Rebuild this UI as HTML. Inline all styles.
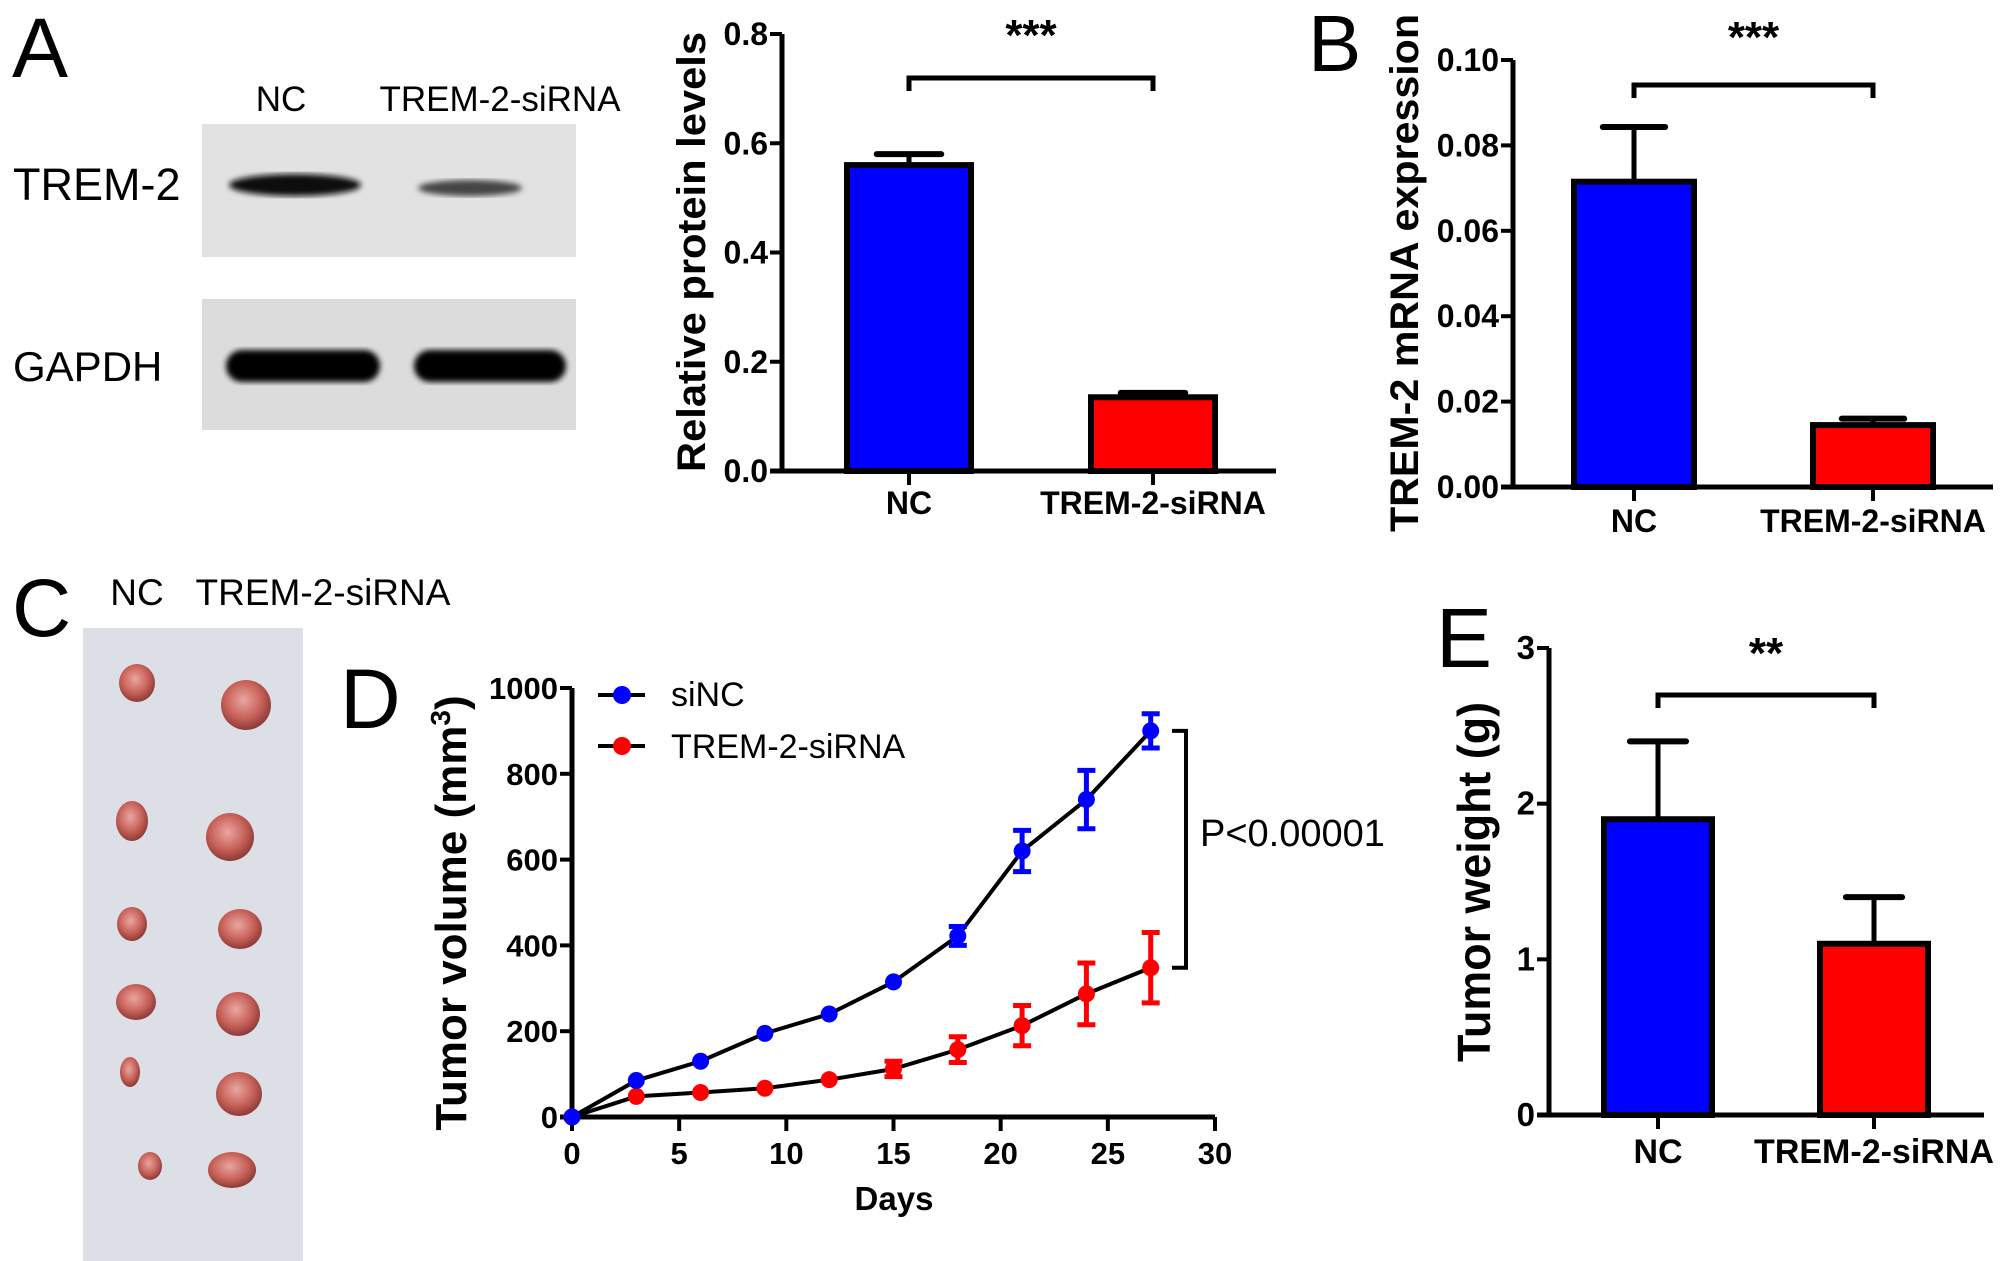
<!DOCTYPE html>
<html><head><meta charset="utf-8"><style>
html,body{margin:0;padding:0;background:#fff;}
svg{display:block;}
text{font-family:"Liberation Sans",Arial,sans-serif;fill:#000;}
.b{font-weight:bold;}
</style></head><body>
<svg id="fig" width="2008" height="1261" viewBox="0 0 2008 1261" xmlns="http://www.w3.org/2000/svg">
<defs>
<filter id="blur3"><feGaussianBlur stdDeviation="3"/></filter>
<filter id="blur5"><feGaussianBlur stdDeviation="5"/></filter>
<radialGradient id="tum" cx="45%" cy="40%" r="60%"><stop offset="0" stop-color="#e8a7a0"/><stop offset="0.6" stop-color="#c8625a"/><stop offset="1" stop-color="#8e3a36"/></radialGradient>
</defs>
<g>
<text x="12" y="77" font-size="84">A</text>
<text x="281" y="111" font-size="35" text-anchor="middle">NC</text>
<text x="500" y="111" font-size="35" text-anchor="middle">TREM-2-siRNA</text>
<text x="13" y="200" font-size="45">TREM-2</text>
<text x="13" y="381" font-size="42">GAPDH</text>
<rect x="202" y="124" width="374" height="133" fill="#e2e2e2"/>
<rect x="202" y="299" width="374" height="131" fill="#dcdcdc"/>
<ellipse cx="295" cy="185" rx="66" ry="11" fill="#111" filter="url(#blur3)"/>
<ellipse cx="470" cy="188" rx="52" ry="8" fill="#444" filter="url(#blur3)"/>
<rect x="226" y="350" width="154" height="32" rx="16" fill="#000" filter="url(#blur3)"/>
<rect x="414" y="350" width="152" height="32" rx="16" fill="#000" filter="url(#blur3)"/>
</g>
<g>
<text x="12" y="636" font-size="82">C</text>
<text x="137" y="605" font-size="37" text-anchor="middle">NC</text>
<text x="323" y="605" font-size="37" text-anchor="middle">TREM-2-siRNA</text>
<rect x="83" y="628" width="220" height="633" fill="#dcdfe5"/>
<g id="tumors"></g>
</g>
<g id="charts"></g>
</svg>
<script>
const NS="http://www.w3.org/2000/svg";
const tumorNC=[[137,683,18,19],[132,821,16,20],[132,924,15,17],[136,1002,20,18],[130,1072,10,15],[150,1166,12,14]];
const tumorSi=[[246,705,25,25],[230,837,24,24],[240,929,22,20],[238,1014,22,22],[239,1094,23,22],[232,1170,24,18]];
const barCategories=["NC","TREM-2-siRNA"];
const proteinValues=[0.56,0.135];
const proteinErrors=[0.02,0.008];
const proteinTicks=["0.0","0.2","0.4","0.6","0.8"];
const mrnaValues=[0.0715,0.0145];
const mrnaErrors=[0.0128,0.0015];
const mrnaTicks=["0.00","0.02","0.04","0.06","0.08","0.10"];
const weightValues=[1.9,1.1];
const weightErrors=[0.5,0.3];
const weightTicks=["0","1","2","3"];
const days=[0,3,6,9,12,15,18,21,24,27];
const siNCValues=[0,85,130,195,240,315,422,620,740,900];
const siNCErrors=[0,0,0,0,0,0,22,48,68,40];
const sirnaValues=[0,48,57,67,87,112,157,213,287,348];
const sirnaErrors=[0,0,0,0,0,18,30,47,72,82];
const dayTicks=[0,5,10,15,20,25,30];
const volumeTicks=[0,200,400,600,800,1000];

function el(tag,attrs,parent){const e=document.createElementNS(NS,tag);for(const k in attrs)e.setAttribute(k,attrs[k]);parent.appendChild(e);return e;}
function txt(s,attrs,parent){const t=el('text',attrs,parent);t.textContent=s;return t;}

const tg=document.getElementById('tumors');
tumorNC.concat(tumorSi).forEach((t,i)=>{
  const e=el('ellipse',{cx:t[0],cy:t[1],rx:t[2],ry:t[3],fill:'url(#tum)'},tg);
  
  
});

const root=document.getElementById('charts');

function barChart(cfg){
  const g=el('g',{},root);
  
  
  const yS=v=>cfg.y0-(v-cfg.ymin)/(cfg.ymax-cfg.ymin)*(cfg.y0-cfg.y1);
  const ya=el('line',{x1:cfg.ax,y1:yS(cfg.ymax),x2:cfg.ax,y2:cfg.y0+2,stroke:'#000','stroke-width':5},g);
  
  const xa=el('line',{x1:cfg.ax-12,y1:cfg.y0,x2:cfg.xend,y2:cfg.y0,stroke:'#000','stroke-width':5},g);
  
  cfg.ticks.forEach(t=>{
    const v=parseFloat(t),y=yS(v);
    const tk=el('line',{x1:cfg.ax-12,y1:y,x2:cfg.ax,y2:y,stroke:'#000','stroke-width':4},g);
    
    const lb=txt(t,{x:cfg.ax-14,y:y+11,'font-size':cfg.tickFont,'text-anchor':'end',class:'b'},g);
    
  });
  cfg.values.forEach((v,i)=>{
    const cx=cfg.centers[i],w=cfg.barW;
    const top=yS(v),errTop=yS(v+cfg.errors[i]);
    const el1=el('line',{x1:cx,y1:errTop,x2:cx,y2:top,stroke:'#000','stroke-width':5},g);
    
    const cap=el('line',{x1:cx-w*0.26,y1:errTop,x2:cx+w*0.26,y2:errTop,stroke:'#000','stroke-width':6,'stroke-linecap':'round'},g);
    
    const r=el('rect',{x:cx-w/2,y:top,width:w,height:cfg.y0-top,fill:i==0?'#0000ff':'#ff0000',stroke:'#000','stroke-width':6},g);
    
    const tk=el('line',{x1:cx,y1:cfg.y0,x2:cx,y2:cfg.y0+14,stroke:'#000','stroke-width':4},g);
    
    const lb=txt(barCategories[i],{x:cx,y:cfg.xlabY,'font-size':cfg.xFont,'text-anchor':'middle',class:'b'},g);
    
  });
  const br=el('polyline',{points:`${cfg.centers[0]},${cfg.brY+13} ${cfg.centers[0]},${cfg.brY} ${cfg.centers[1]},${cfg.brY} ${cfg.centers[1]},${cfg.brY+13}`,fill:'none',stroke:'#000','stroke-width':5},g);
  
  const st=txt(cfg.stars,{x:(cfg.centers[0]+cfg.centers[1])/2,y:cfg.starY,'font-size':44,'text-anchor':'middle',class:'b'},g);
  
  const yt=txt(cfg.ytitle,{x:0,y:0,'font-size':cfg.ytFont,'text-anchor':'middle',class:'b',transform:`translate(${cfg.ytX},${cfg.ytY}) rotate(-90)`,textLength:cfg.ytLen,lengthAdjust:'spacingAndGlyphs'},g);
  
  return g;
}

barChart({name:'panel-a-protein-chart',ax:782,y0:471,y1:34,ymin:0,ymax:0.8,xend:1276,ticks:proteinTicks,values:proteinValues,errors:proteinErrors,centers:[909,1153],barW:124,tickFont:32,xFont:32,xlabY:514,brY:78,starY:50,stars:'***',ytitle:'Relative protein levels',ytFont:40,ytX:705,ytY:252,ytLen:440});
barChart({name:'panel-b-mrna-chart',ax:1513,y0:487,y1:60,ymin:0,ymax:0.1,xend:1993,ticks:mrnaTicks,values:mrnaValues,errors:mrnaErrors,centers:[1634,1873],barW:120,tickFont:32,xFont:32,xlabY:532,brY:85,starY:52,stars:'***',ytitle:'TREM-2 mRNA expression',ytFont:40,ytX:1418,ytY:273,ytLen:518});
barChart({name:'panel-e-weight-chart',ax:1549,y0:1115,y1:648,ymin:0,ymax:3,xend:1984,ticks:weightTicks,values:weightValues,errors:weightErrors,centers:[1658,1874],barW:108,tickFont:33,xFont:34,xlabY:1163,brY:695,starY:668,stars:'**',ytitle:'Tumor weight (g)',ytFont:46,ytX:1490,ytY:882,ytLen:360});

[['B',1308,71,80],['D',340,728,84],['E',1436,667,84]].forEach(l=>{
  const t=txt(l[0],{x:l[1],y:l[2],'font-size':l[3]},root);
  
  
});

(function(){
  const g=el('g',{},root);
  
  
  const ax=572,y0=1117,y1=688,xend=1215;
  const xS=d=>ax+d/30*(xend-ax);
  const yS=v=>y0-v/1000*(y0-y1);
  const ya=el('line',{x1:ax,y1:y1,x2:ax,y2:y0+2,stroke:'#000','stroke-width':5},g);
  
  const xa=el('line',{x1:ax-12,y1:y0,x2:xend,y2:y0,stroke:'#000','stroke-width':5},g);
  
  volumeTicks.forEach(v=>{
    const y=yS(v);
    const tk=el('line',{x1:ax-12,y1:y,x2:ax,y2:y,stroke:'#000','stroke-width':4},g);
    
    const lb=txt(String(v),{x:ax-14,y:y+11,'font-size':31,'text-anchor':'end',class:'b'},g);
    
  });
  dayTicks.forEach(d=>{
    const x=xS(d);
    const tk=el('line',{x1:x,y1:y0,x2:x,y2:y0+14,stroke:'#000','stroke-width':4},g);
    
    const lb=txt(String(d),{x:x,y:1164,'font-size':31,'text-anchor':'middle',class:'b'},g);
    
  });
  const xt=txt('Days',{x:894,y:1210,'font-size':33,'text-anchor':'middle',class:'b'},g);
  
  const yt=el('text',{'font-size':44,'text-anchor':'middle',class:'b',transform:'translate(466,913) rotate(-90)'},g);
  
  yt.innerHTML='Tumor volume  (mm<tspan dy="-16" font-size="28">3</tspan><tspan dy="16">)</tspan>';
  function series(vals,errs,color,name){
    const pts=vals.map((v,i)=>xS(days[i])+','+yS(v)).join(' ');
    const pl=el('polyline',{points:pts,fill:'none',stroke:'#000','stroke-width':4},g);
    
    vals.forEach((v,i)=>{
      const x=xS(days[i]);
      if(errs[i]>0){
        const eb=el('path',{d:`M${x-9},${yS(v+errs[i])}H${x+9}M${x},${yS(v+errs[i])}V${yS(v-errs[i])}M${x-9},${yS(v-errs[i])}H${x+9}`,stroke:color,'stroke-width':5,fill:'none'},g);
        
      }
      const c=el('circle',{cx:x,cy:yS(v),r:8.5,fill:color},g);
      
    });
  }
  series(sirnaValues,sirnaErrors,'#ff0000','trem2-sirna');
  series(siNCValues,siNCErrors,'#0000ff','sinc');
  [['siNC','#0000ff',695,706],['TREM-2-siRNA','#ff0000',746,758]].forEach((l,i)=>{
    const lg=el('g',{},g);
    
    el('line',{x1:598,y1:l[2],x2:645,y2:l[2],stroke:'#000','stroke-width':4},lg);
    el('circle',{cx:622,cy:l[2],r:9,fill:l[1]},lg);
    txt(l[0],{x:671,y:l[3],'font-size':34},lg);
  });
  const br=el('polyline',{points:`1172,${yS(900)} 1186,${yS(900)} 1186,${yS(348)} 1172,${yS(348)}`,fill:'none',stroke:'#000','stroke-width':4},g);
  
  const pv=txt('P<0.00001',{x:1200,y:846,'font-size':38},g);
  
})();
</script>
</body></html>
